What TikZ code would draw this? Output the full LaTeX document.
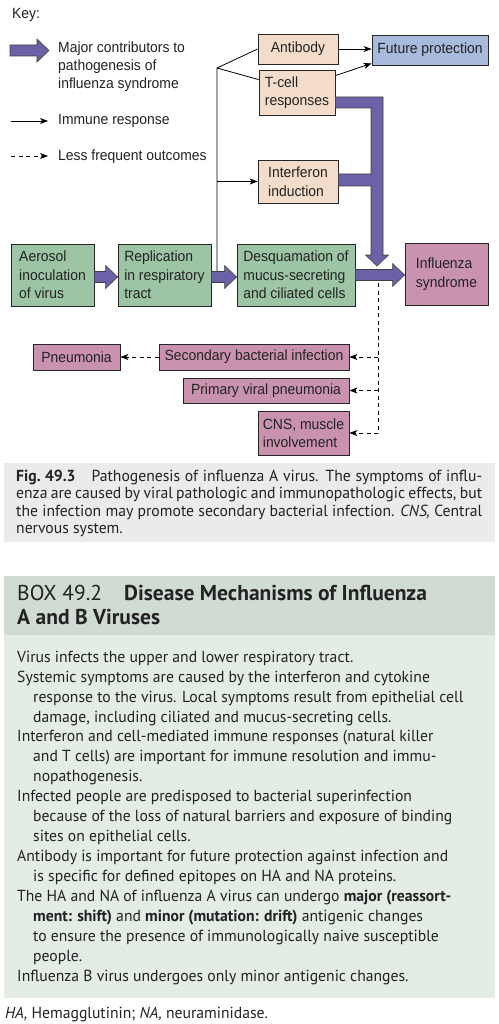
\documentclass[tikz,border=0pt]{standalone}
\usepackage{fontspec}
\setmainfont{Liberation Sans}[FakeStretch=0.94]
\newfontfamily\boxfont{PT Sans}[FakeStretch=0.98]
\newfontfamily\titlefam{PT Sans}
\usetikzlibrary{calc,arrows.meta}
\definecolor{gfill}{HTML}{9DC5A5}
\definecolor{tfill}{HTML}{F3DCCA}
\definecolor{bfill}{HTML}{A8BBDC}
\definecolor{mfill}{HTML}{C993B0}
\definecolor{purp}{HTML}{6A61A6}
\definecolor{capbg}{HTML}{EBEBED}
\definecolor{hdbg}{HTML}{D0DCD3}
\definecolor{bodybg}{HTML}{E4ECE6}
\definecolor{txt}{HTML}{222222}
\newcommand\diagfont{\fontsize{14.8pt}{18.5pt}\selectfont}
\newcommand\capfont{\boxfont\fontsize{16pt}{17.5pt}\selectfont}
\newcommand\bodyfont{\boxfont\fontsize{16pt}{20pt}\selectfont}
\newcommand\titlefont{\titlefam\fontsize{21.5pt}{24pt}\selectfont}
\newcommand\fatH[3]{\draw[fat] ($(#1.east|-0,#3)+(0,-5.5)$) -- ($(#2.west|-0,#3)+(-12,-5.5)$) -- ($(#2.west|-0,#3)+(-12,-11.5)$) -- (#2.west|-0,#3) -- ($(#2.west|-0,#3)+(-12,11.5)$) -- ($(#2.west|-0,#3)+(-12,5.5)$) -- ($(#1.east|-0,#3)+(0,5.5)$) -- cycle;}
\tikzset{
  bx/.style={draw=black!85, line width=0.8pt, inner sep=0pt, font=\diagfont, text=txt, align=left},
  gbox/.style={bx, fill=gfill},
  tbox/.style={bx, fill=tfill},
  bbox/.style={bx, fill=bfill},
  mbox/.style={bx, fill=mfill},
  fat/.style={fill=purp, draw=black!75, line width=0.6pt, line join=miter},
  imm/.style={line width=0.8pt, -{Stealth[length=8pt,width=6pt,inset=2.2pt]}},
  lfo/.style={imm, dash pattern=on 4pt off 3.5pt},
  tl/.style={anchor=base west, inner sep=0pt, text=txt},
}
\begin{document}
\begin{tikzpicture}[x=1pt,y=-1pt]
\useasboundingbox (0,0) rectangle (498,1024);
\fill[white] (0,0) rectangle (498,1024);
% key
\node[tl, font=\diagfont] (key) at (12,19) {Key:};
\draw[fat] (10,45) -- (37,45) -- (37,39) -- (49,50.5) -- (37,62) -- (37,56) -- (10,56) -- cycle;
\node[tl, font=\diagfont] (k1a) at (58,53) {Major contributors to};
\node[tl, font=\diagfont] (k1b) at (58,71) {pathogenesis of};
\node[tl, font=\diagfont] (k1c) at (58,89) {influenza syndrome};
\draw[imm] (11,121) -- (48,121);
\node[tl, font=\diagfont] (k2) at (58,125) {Immune response};
\draw[lfo] (11,156) -- (48,156);
\node[tl, font=\diagfont] (k3) at (58,161) {Less frequent outcomes};
% boxes
\node[tbox, minimum width=80pt, minimum height=30pt] (ab) at (298,49) {Antibody};
\node[bbox, minimum width=116pt, minimum height=30pt] (fp) at (430,50) {Future protection};
\node[tbox, minimum width=76pt, minimum height=45pt] (tc) at (297,92.5) {T-cell\\responses};
\node[tbox, minimum width=80pt, minimum height=43pt] (ifn) at (298,181.5) {Interferon\\induction};
\node[gbox, minimum width=83pt, minimum height=62pt] (aero) at (52.5,275) {Aerosol\\inoculation\\of virus};
\node[gbox, minimum width=93pt, minimum height=62pt] (repl) at (164.5,275) {Replication\\in respiratory\\tract};
\node[gbox, minimum width=118pt, minimum height=62pt] (desq) at (296,275) {Desquamation of\\mucus-secreting\\and ciliated cells};
\node[mbox, minimum width=83pt, minimum height=62pt] (flu) at (446.5,274) {Influenza\\syndrome};
\node[mbox, minimum width=190pt, minimum height=26pt] (sbi) at (254,357) {Secondary bacterial infection};
\node[mbox, minimum width=87pt, minimum height=26pt] (pn) at (76.5,357) {Pneumonia};
\node[mbox, minimum width=166pt, minimum height=25pt] (pvp) at (266,390.5) {Primary viral pneumonia};
\node[mbox, minimum width=91pt, minimum height=44pt] (cns) at (303.5,433) {CNS, muscle\\involvement};
% immune connectors
\coordinate (br) at (217,68);
\coordinate (brb) at (217,272);
\draw[line width=0.8pt] (brb) -- (br) -- (ab.west);
\draw[line width=0.8pt] (br) -- ($(tc.north west)+(0,10)$);
\draw[imm] (br|-ifn.west) -- (ifn.west);
\draw[imm] (ab.east) -- (ab.east-|fp.west);
\draw[imm] ($(tc.north east)+(0,6)$) -- ($(fp.south west)+(0,-2)$);
% fat arrows
\fatH{aero}{repl}{277}
\fatH{repl}{desq}{277}
\fatH{desq}{flu}{275}
\draw[fat] (tc.east|-0,97) -- (383,97) -- (383,255) -- (388.5,255) -- (377,266) -- (365.5,255) -- (371,255) -- (371,186) -- (ifn.east|-0,186) -- (ifn.east|-0,174) -- (371,174) -- (371,108) -- (tc.east|-0,108) -- cycle;
% less frequent outcomes
\coordinate (dtop) at (378,283);
\coordinate (dbot) at (378,433);
\draw[line width=0.8pt, dash pattern=on 4pt off 3.5pt] (dtop) -- (dbot);
\draw[lfo] (dtop|-sbi.east) -- (sbi.east);
\draw[lfo] (dtop|-pvp.east) -- (pvp.east);
\draw[lfo] (dbot) -- (cns.east);
\draw[lfo] (sbi.west) -- (pn.east);
% caption
\fill[capbg] (4,463) rectangle (495,542);
\node[tl] (c1) at (16,481) {\hbox to 466pt{\capfont\textbf{Fig.~49.3}\quad Pathogenesis of influenza A virus. The symptoms of influ-}};
\node[tl] (c2) at (16,498.5) {\hbox to 466pt{\capfont enza are caused by viral pathologic and immunopathologic effects, but}};
\node[tl] (c3) at (16,516) {\hbox to 466pt{\capfont the infection may promote secondary bacterial infection. \textit{CNS,} Central}};
\node[tl, font=\capfont] (c4) at (16,533.5) {nervous system.};
% box 49.2
\fill[hdbg] (4,576) rectangle (495,635);
\fill[bodybg] (4,635) rectangle (495,998);
\node[tl, font=\titlefont] (t1) at (17,600) {BOX 49.2\hspace{22pt}\textbf{Disease Mechanisms of Influenza}};
\node[tl, font=\titlefont] (t2) at (17,624) {\textbf{A and B Viruses}};
\node[tl, font=\bodyfont] (b1) at (17,662) {Virus infects the upper and lower respiratory tract.};
\node[tl, font=\bodyfont] (b2) at (17,682) {Systemic symptoms are caused by the interferon and cytokine};
\node[tl, font=\bodyfont] (b3) at (33,702) {response to the virus. Local symptoms result from epithelial cell};
\node[tl, font=\bodyfont] (b4) at (33,722) {damage, including ciliated and mucus-secreting cells.};
\node[tl, font=\bodyfont] (b5) at (17,741.5) {Interferon and cell-mediated immune responses (natural killer};
\node[tl, font=\bodyfont] (b6) at (33,761.5) {and T cells) are important for immune resolution and immu-};
\node[tl, font=\bodyfont] (b7) at (33,781.5) {nopathogenesis.};
\node[tl, font=\bodyfont] (b8) at (17,801.5) {Infected people are predisposed to bacterial superinfection};
\node[tl, font=\bodyfont] (b9) at (33,821.5) {because of the loss of natural barriers and exposure of binding};
\node[tl, font=\bodyfont] (b10) at (33,841.5) {sites on epithelial cells.};
\node[tl, font=\bodyfont] (b11) at (17,861.5) {Antibody is important for future protection against infection and};
\node[tl, font=\bodyfont] (b12) at (33,881.5) {is specific for defined epitopes on HA and NA proteins.};
\node[tl, font=\bodyfont] (b13) at (17,901) {The HA and NA of influenza A virus can undergo \textbf{major (reassort-}};
\node[tl, font=\bodyfont] (b14) at (33,921) {\textbf{ment: shift)} and \textbf{minor (mutation: drift)} antigenic changes};
\node[tl, font=\bodyfont] (b15) at (33,941) {to ensure the presence of immunologically naive susceptible};
\node[tl, font=\bodyfont] (b16) at (33,961) {people.};
\node[tl, font=\bodyfont] (b17) at (17,981) {Influenza B virus undergoes only minor antigenic changes.};
\node[tl, font=\capfont] (fn) at (5,1018) {\textit{HA,} Hemagglutinin; \textit{NA,} neuraminidase.};
\end{tikzpicture}
\end{document}
